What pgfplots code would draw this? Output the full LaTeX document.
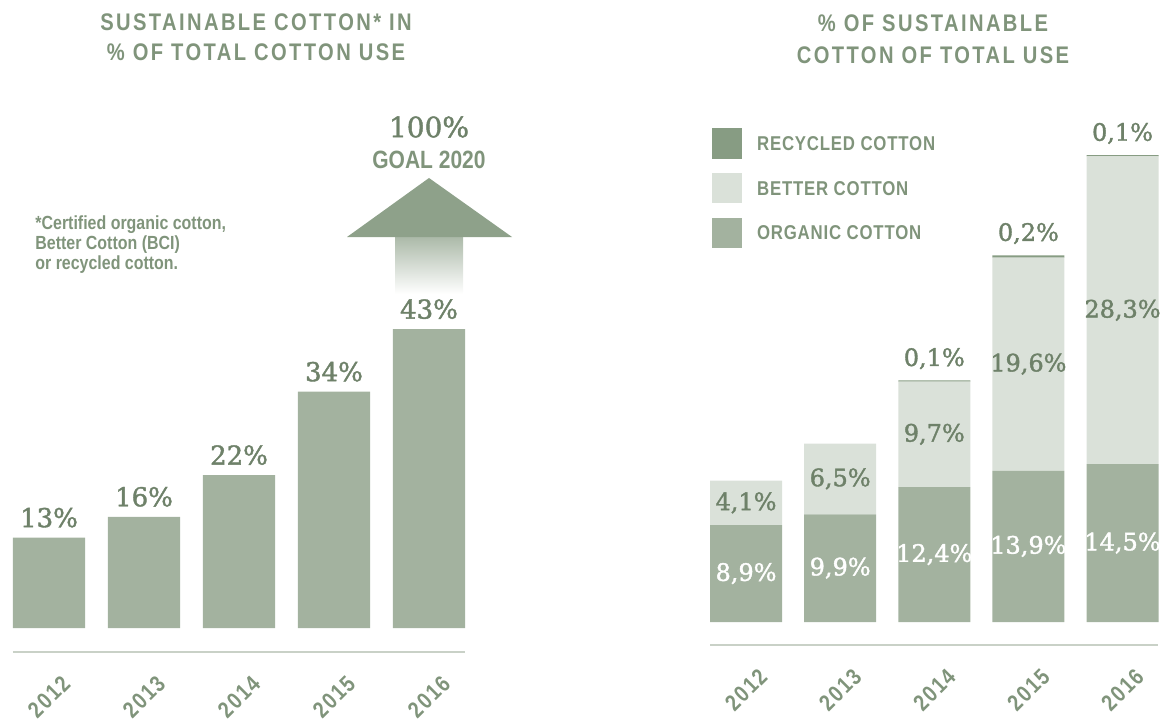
\documentclass[border=0pt]{standalone}
\usepackage{fontspec}
\usepackage{pgfplots}
\usepackage{pgfplotstable}
\pgfplotsset{compat=1.18}
\setmainfont[FakeStretch=0.84]{Liberation Sans}
\newfontfamily\numfont[FakeBold=1.5]{DejaVu Serif}
\newfontfamily\capfont[FakeStretch=0.84, LetterSpace=10]{Liberation Sans}
\newfontfamily\tickfont[FakeStretch=0.84, LetterSpace=8]{Liberation Sans}
\newfontfamily\legfont[FakeStretch=0.84, LetterSpace=4]{Liberation Sans}
\definecolor{bargreen}{HTML}{A3B29F}
\definecolor{lightgreen}{HTML}{DAE1D9}
\definecolor{recgreen}{HTML}{879C83}
\definecolor{txtgreen}{HTML}{80947B}
\definecolor{numgreen}{HTML}{6E8169}
\definecolor{arrowgreen}{HTML}{8EA18A}
\definecolor{linegreen}{HTML}{C9D1C7}
\tikzset{
  wlab/.style={font=\numfont\fontsize{12}{12}\selectfont, text=white},
  glab/.style={font=\numfont\fontsize{12}{12}\selectfont, text=numgreen},
  leglab/.style={anchor=west, font=\legfont\bfseries\fontsize{10}{10}\selectfont, text=txtgreen},
}

\pgfplotstableread{
x total
0 13
1 16
2 22
3 34
4 43
}\totaltable

\pgfplotstableread{
x organic better recycled
0 8.9 4.1 0
1 9.9 6.5 0
2 12.4 9.7 0.1
3 13.9 19.6 0.2
4 14.5 28.3 0.1
}\splittable

\begin{document}
\begin{tikzpicture}
\useasboundingbox (0,0) rectangle (585pt,362pt);

% ---------- goal arrow (behind) ----------
\begin{scope}[shift={(0pt,362pt)}, x=0.5pt, y=-0.5pt]
\shade[top color=arrowgreen!75, bottom color=white] (395,236) rectangle (463,294);
\fill[arrowgreen] (347,237) -- (429,178) -- (512,237) -- cycle;
\end{scope}

% ---------- left chart ----------
\begin{axis}[
  at={(6.5pt,36pt)}, anchor=south west,
  scale only axis, width=226pt, height=290pt,
  xmin=-0.379, xmax=4.379, ymin=-3.453, ymax=80,
  clip=false,
  axis x line*=bottom, axis y line=none,
  x axis line style={linegreen, line width=0.8pt},
  xtick=data, xticklabels={2012,2013,2014,2015,2016},
  major tick length=0pt,
  xticklabel style={yshift=-22.5pt, rotate=45, anchor=center, inner sep=0.5pt,
    font=\tickfont\bfseries\fontsize{11.5}{11.5}\selectfont, text=txtgreen},
  ybar, bar width=0.758,
  /pgf/number format/assume math mode=true,
  nodes near coords={\pgfmathprintnumber{\pgfplotspointmeta}\%},
  every node near coord/.append style={anchor=center, yshift=10pt,
    font=\numfont\fontsize{13}{13}\selectfont, text=numgreen},
]
\addplot[fill=bargreen, draw=none] table[x=x, y=total] {\totaltable};
\end{axis}

% ---------- right chart ----------
\begin{axis}[
  at={(355pt,39.5pt)}, anchor=south west,
  scale only axis, width=224pt, height=283.5pt,
  xmin=-0.383, xmax=4.377, ymin=-2.114, ymax=50,
  clip=false,
  axis x line*=bottom, axis y line=none,
  x axis line style={linegreen, line width=0.8pt},
  xtick=data, xticklabels={2012,2013,2014,2015,2016},
  major tick length=0pt,
  xticklabel style={yshift=-22.5pt, rotate=45, anchor=center, inner sep=0.5pt,
    font=\tickfont\bfseries\fontsize{11.5}{11.5}\selectfont, text=txtgreen},
  ybar stacked, bar width=0.765,
]
\addplot[fill=bargreen, draw=none] table[x=x, y=organic] {\splittable};
\addplot[fill=lightgreen, draw=none] table[x=x, y=better] {\splittable};
\addplot[fill=recgreen, draw=none] table[x=x, y=recycled] {\splittable};
\end{axis}

% ---------- overlay axis for the segment labels ----------
\begin{axis}[
  at={(355pt,39.5pt)}, anchor=south west,
  scale only axis, width=224pt, height=283.5pt,
  xmin=-0.383, xmax=4.377, ymin=-2.114, ymax=50,
  clip=false, hide axis,
]
\node[wlab] at (axis cs:0,4.45) {8,9\%};
\node[wlab] at (axis cs:1,4.95) {9,9\%};
\node[wlab] at (axis cs:2,6.2) {12,4\%};
\node[wlab] at (axis cs:3,6.95) {13,9\%};
\node[wlab] at (axis cs:4,7.25) {14,5\%};
\node[glab] at (axis cs:0,10.95) {4,1\%};
\node[glab] at (axis cs:1,13.15) {6,5\%};
\node[glab] at (axis cs:2,17.25) {9,7\%};
\node[glab] at (axis cs:3,23.7) {19,6\%};
\node[glab] at (axis cs:4,28.65) {28,3\%};
\node[glab] at (axis cs:2,24.2) {0,1\%};
\node[glab] at (axis cs:3,35.7) {0,2\%};
\node[glab] at (axis cs:4,44.9) {0,1\%};
\end{axis}

% ---------- decorations in pixel coordinates ----------
\begin{scope}[shift={(0pt,362pt)}, x=0.5pt, y=-0.5pt]
\node[font=\capfont\bfseries\fontsize{12}{15}\selectfont, text=txtgreen, align=center]
  at (256,37) {SUSTAINABLE COTTON* IN\\\% OF TOTAL COTTON USE};
\node[font=\capfont\bfseries\fontsize{12}{16}\selectfont, text=txtgreen, align=center]
  at (933,39.5) {\% OF SUSTAINABLE\\COTTON OF TOTAL USE};
\node[anchor=north west, inner sep=0pt, align=left,
  font=\bfseries\fontsize{9.5}{10}\selectfont, text=txtgreen]
  at (35,215) {*Certified organic cotton,\\Better Cotton (BCI)\\or recycled cotton.};
\node[font=\numfont\fontsize{14}{14}\selectfont, text=numgreen] at (429,127) {100\%};
\node[font=\bfseries\fontsize{12.5}{12.5}\selectfont, text=txtgreen] at (429,160) {GOAL 2020};
\fill[recgreen] (712,128) rectangle (742,159);
\fill[lightgreen] (712,173) rectangle (742,203);
\fill[bargreen] (712,218) rectangle (742,248);
\node[leglab] at (750,144) {RECYCLED COTTON};
\node[leglab] at (750,189) {BETTER COTTON};
\node[leglab] at (750,233) {ORGANIC COTTON};
\end{scope}
\end{tikzpicture}
\end{document}
